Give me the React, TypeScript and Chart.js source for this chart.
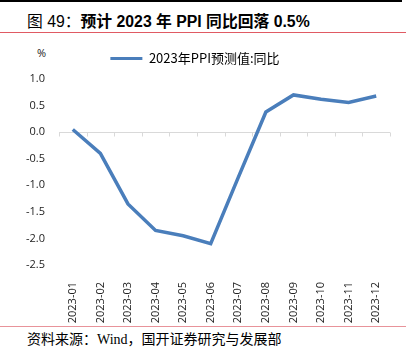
import React, { useEffect, useRef } from "react";
import { Chart, registerables } from "chart.js";

Chart.register(...registerables);

const categories = [
  "2023-01", "2023-02", "2023-03", "2023-04", "2023-05", "2023-06",
  "2023-07", "2023-08", "2023-09", "2023-10", "2023-11", "2023-12",
];
const ppiForecast = [0.05, -0.4, -1.35, -1.85, -1.95, -2.1, -0.85, 0.38, 0.7, 0.62, 0.56, 0.68];
const seriesName = "2023年PPI预测值:同比";
const yMin = -2.5;
const yMax = 1.0;
const yStep = 0.5;

const zeroAxisPlugin = {
  id: "zeroAxis",
  beforeDatasetsDraw(chart: any) {
    const { ctx, chartArea, scales } = chart;
    const y0 = Math.round(scales.y.getPixelForValue(0)) + 0.5;
    ctx.save();
    ctx.strokeStyle = "#d9d9d9";
    ctx.lineWidth = 1;
    ctx.beginPath();
    ctx.moveTo(chartArea.left, y0);
    ctx.lineTo(chartArea.right, y0);
    const n = categories.length;
    const w = (chartArea.right - chartArea.left) / n;
    for (let i = 0; i <= n; i++) {
      const x = Math.round(chartArea.left + i * w) + 0.5;
      ctx.moveTo(x, y0);
      ctx.lineTo(x, y0 + 4);
    }
    ctx.stroke();
    ctx.restore();
  },
};

const legendHeightPlugin = {
  id: "legendHeight",
  afterInit(c: any) {
    const lg = c.legend;
    if (lg) {
      const fit = lg.fit;
      lg.fit = function () {
        fit.call(this);
        this.height = 39;
      };
    }
  },
};

export default function App() {
  const ref = useRef<HTMLCanvasElement>(null);
  useEffect(() => {
    document.body.style.margin = "0";
    const chart = new Chart(ref.current!, {
      type: "line",
      data: {
        labels: categories,
        datasets: [
          {
            label: seriesName,
            data: ppiForecast,
            borderColor: "#4a7ebb",
            backgroundColor: "#4a7ebb",
            borderWidth: 3.5,
            pointRadius: 0,
            tension: 0,
          },
        ],
      },
      options: {
        animation: false,
        responsive: false,
        layout: { padding: { left: 0, right: 22, top: 0, bottom: 0 } },
        plugins: {
          tooltip: { enabled: false },
          legend: {
            display: true,
            position: "top",
            labels: {
              boxWidth: 32,
              boxHeight: 3,
              padding: 12,
              color: "#000",
              font: { family: "'Noto Sans CJK SC', sans-serif", size: 13 },
              generateLabels: () => [
                {
                  text: seriesName,
                  fillStyle: "#4a7ebb",
                  strokeStyle: "#4a7ebb",
                  lineWidth: 0,
                  datasetIndex: 0,
                },
              ],
            },
          } as any,
        },
        scales: {
          x: {
            offset: true,
            afterFit(scale: any) {
              scale.height = 61;
            },
            grid: { display: false },
            border: { display: false },
            ticks: {
              minRotation: 90,
              maxRotation: 90,
              autoSkip: false,
              padding: 9,
              color: "#222",
              font: { family: "'Open Sans', 'DejaVu Sans', sans-serif", size: 11 },
            },
          },
          y: {
            min: yMin,
            max: yMax,
            afterFit(scale: any) {
              scale.width = 59;
            },
            grid: { display: false, drawTicks: false },
            border: { display: false },
            ticks: {
              stepSize: yStep,
              padding: 14,
              color: "#222",
              font: { family: "'Open Sans', 'DejaVu Sans', sans-serif", size: 11 },
              callback: (v: any) => Number(v).toFixed(1),
            },
          },
        },
      },
      plugins: [zeroAxisPlugin, legendHeightPlugin],
    });
    return () => chart.destroy();
  }, []);

  return (
    <div style={{ position: "relative", width: 412, height: 361, background: "#fff", overflow: "hidden" }}>
      <div style={{ position: "absolute", left: 0, top: 0, width: 402, height: 1.5, background: "#000" }} />
      <div
        style={{
          position: "absolute",
          left: 27,
          top: 11,
          fontSize: 15.8,
          lineHeight: "22px",
          color: "#000",
          whiteSpace: "nowrap",
          fontFamily: "'Liberation Sans', 'Noto Sans CJK SC', sans-serif",
        }}
      >
        <span>图 49：</span>
        <span style={{ fontWeight: 700 }}>预计 2023 年 PPI 同比回落 0.5%</span>
      </div>
      <div style={{ position: "absolute", left: 0, top: 31.5, width: 406, height: 1.5, background: "#e05a63" }} />
      <div
        style={{
          position: "absolute",
          left: 37,
          top: 45,
          fontFamily: "'Open Sans', 'DejaVu Sans', sans-serif",
          fontSize: 11,
          color: "#222",
        }}
      >
        %
      </div>
      <canvas ref={ref} width={412} height={286} style={{ position: "absolute", left: 0, top: 40, width: 412, height: 286 }} />
      <div style={{ position: "absolute", left: 0, top: 326, width: 406, height: 1.2, background: "#e8939a" }} />
      <div
        style={{
          position: "absolute",
          left: 27,
          top: 330,
          fontFamily: "'Liberation Serif', 'Noto Sans CJK SC', serif",
          fontSize: 14,
          lineHeight: "20px",
          color: "#000",
          whiteSpace: "nowrap",
        }}
      >
        资料来源：Wind，国开证券研究与发展部
      </div>
    </div>
  );
}
